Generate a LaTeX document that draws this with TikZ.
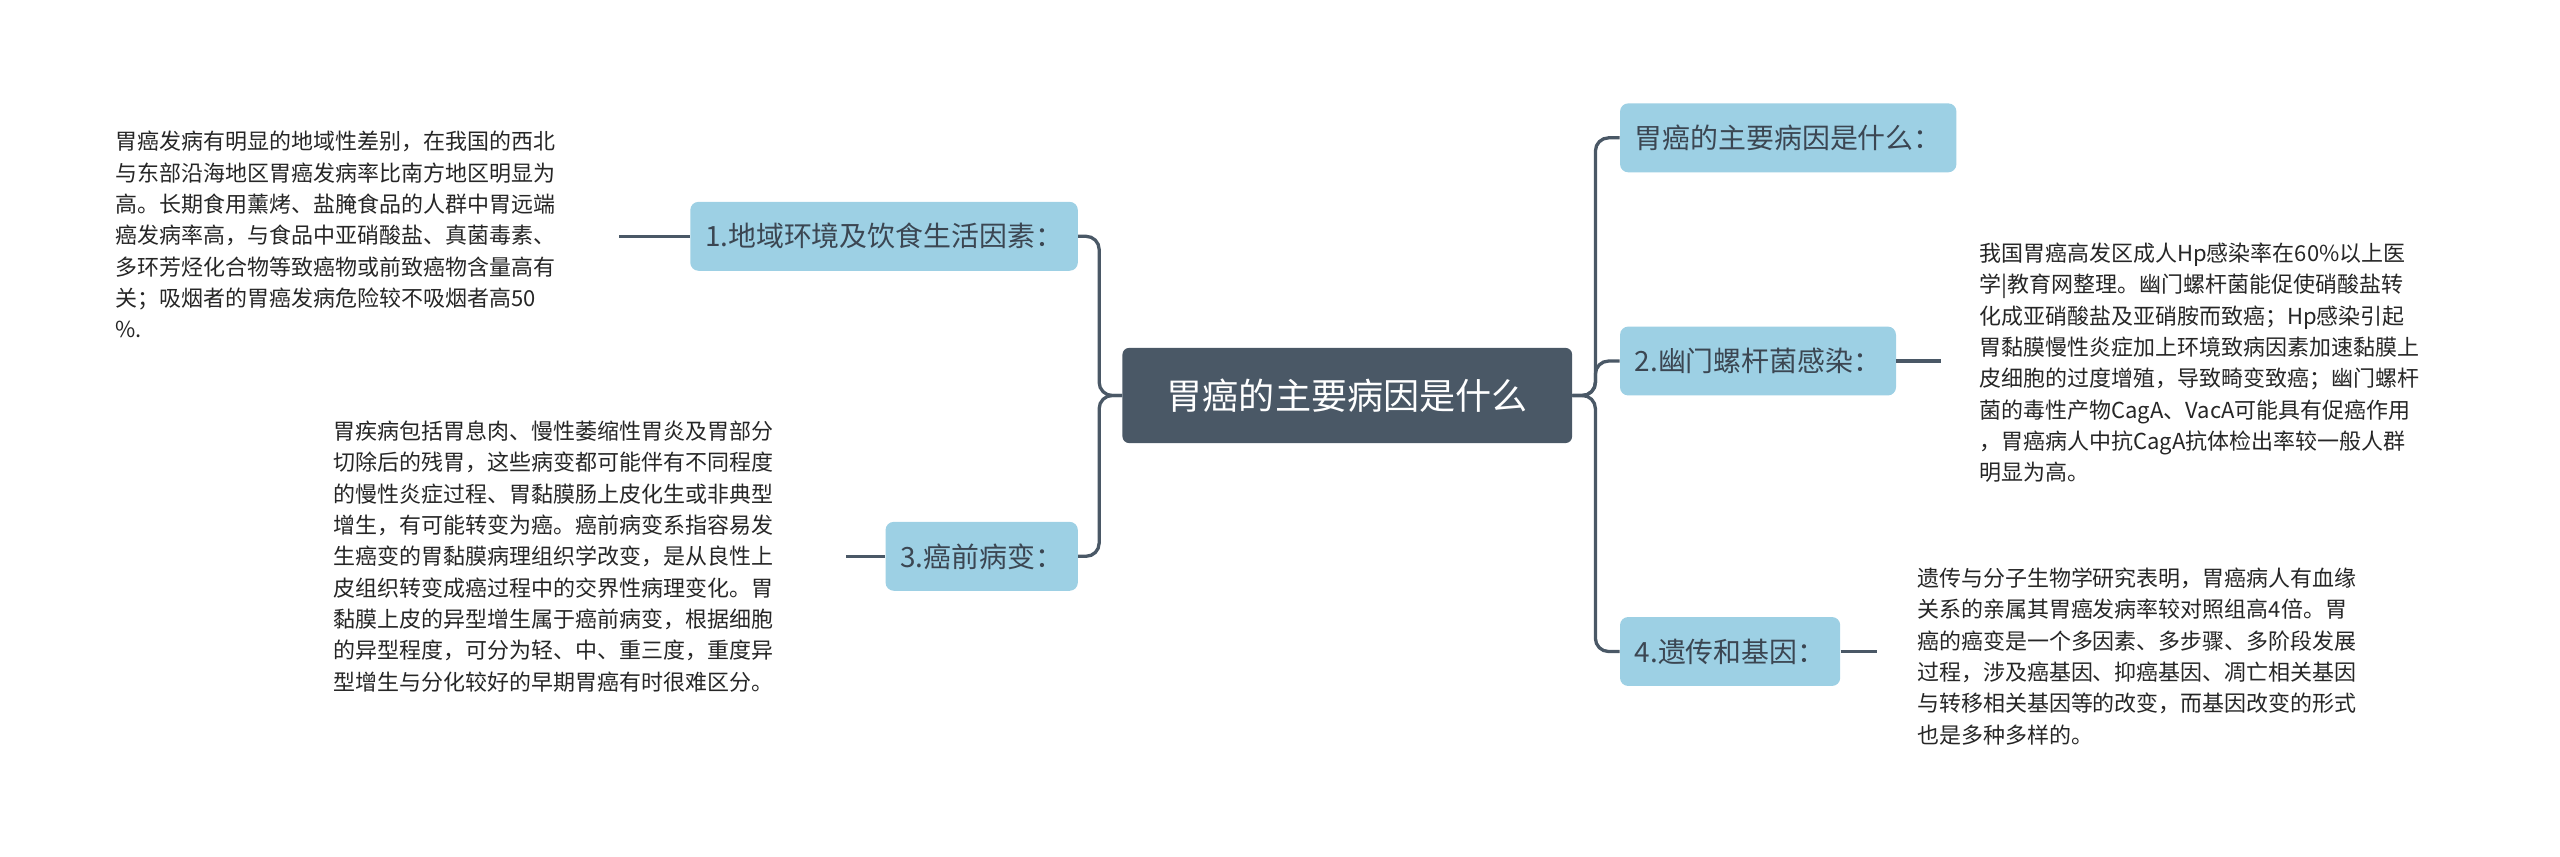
\documentclass[tikz,border=0pt]{standalone}
\usepackage{fontspec}
\newfontfamily\cjk{Noto Sans CJK SC}
\definecolor{slate}{HTML}{4A5866}
\definecolor{topicblue}{HTML}{9DD0E4}
\tikzset{root/.style={rectangle, rounded corners=4pt, fill=slate, text=white, font=\cjk\fontsize{22}{26}\selectfont, minimum width=274pt, minimum height=58pt},
 topic/.style={rectangle, rounded corners=5pt, fill=topicblue, text=slate!80!black, font=\cjk\fontsize{17}{20}\selectfont, minimum height=42pt, inner xsep=9pt},
 note/.style={inner sep=0pt, align=left, text=black!85, font=\cjk\fontsize{13.4}{19.1}\selectfont},
 conn/.style={draw=slate, line width=2pt, rounded corners=8pt}}
\begin{document}
\begin{tikzpicture}[x=1pt,y=1pt]
\useasboundingbox (0,0) rectangle (1560,-522);
\node[root] (c) at (821,-241) {胃癌的主要病因是什么};
% right side
\node[topic, anchor=west] (r1) at (987,-84) {胃癌的主要病因是什么：};
\node[topic, anchor=west] (r2) at (987,-220) {2.幽门螺杆菌感染：};
\node[topic, anchor=west] (r4) at (987,-397) {4.遗传和基因：};
% left side
\node[topic, anchor=east] (l1) at (657,-144) {1.地域环境及饮食生活因素：};
\node[topic, anchor=east] (l3) at (657,-339) {3.癌前病变：};
% notes
\node[note, anchor=west] (t1) at (70,-143) {胃癌发病有明显的地域性差别，在我国的西北\\与东部沿海地区胃癌发病率比南方地区明显为\\高。长期食用薰烤、盐腌食品的人群中胃远端\\癌发病率高，与食品中亚硝酸盐、真菌毒素、\\多环芳烃化合物等致癌物或前致癌物含量高有\\关；吸烟者的胃癌发病危险较不吸烟者高50\\\%.};
\node[note, anchor=west] (t3) at (203,-339) {胃疾病包括胃息肉、慢性萎缩性胃炎及胃部分\\切除后的残胃，这些病变都可能伴有不同程度\\的慢性炎症过程、胃黏膜肠上皮化生或非典型\\增生，有可能转变为癌。癌前病变系指容易发\\生癌变的胃黏膜病理组织学改变，是从良性上\\皮组织转变成癌过程中的交界性病理变化。胃\\黏膜上皮的异型增生属于癌前病变，根据细胞\\的异型程度，可分为轻、中、重三度，重度异\\型增生与分化较好的早期胃癌有时很难区分。};
\node[note, anchor=west] (t2) at (1206,-221) {我国胃癌高发区成人Hp感染率在60\%以上医\\学|教育网整理。幽门螺杆菌能促使硝酸盐转\\化成亚硝酸盐及亚硝胺而致癌；Hp感染引起\\胃黏膜慢性炎症加上环境致病因素加速黏膜上\\皮细胞的过度增殖，导致畸变致癌；幽门螺杆\\菌的毒性产物CagA、VacA可能具有促癌作用\\，胃癌病人中抗CagA抗体检出率较一般人群\\明显为高。};
\node[note, anchor=west] (t4) at (1168,-400) {遗传与分子生物学研究表明，胃癌病人有血缘\\关系的亲属其胃癌发病率较对照组高4倍。胃\\癌的癌变是一个多因素、多步骤、多阶段发展\\过程，涉及癌基因、抑癌基因、凋亡相关基因\\与转移相关基因等的改变，而基因改变的形式\\也是多种多样的。};
% connectors
\draw[conn] (c.east) -- ++(14,0) |- (r1.west);
\draw[conn] (c.east) -- ++(14,0) |- (r2.west);
\draw[conn] (c.east) -- ++(14,0) |- (r4.west);
\draw[conn] (c.west) -- ++(-14,0) |- (l1.east);
\draw[conn] (c.west) -- ++(-14,0) |- (l3.east);
\draw[conn] (r2.east) -- ++(27,0);
\draw[conn] (r4.east) -- ++(22,0);
\draw[conn] (l1.west) -- ++(-43,0);
\draw[conn] (l3.west) -- ++(-24,0);
\end{tikzpicture}
\end{document}
